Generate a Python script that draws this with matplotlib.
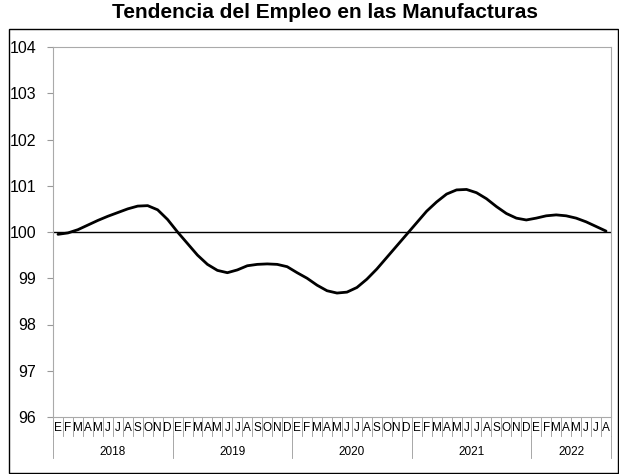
import matplotlib
matplotlib.use("Agg")
import matplotlib.pyplot as plt
import numpy as np
from matplotlib.patches import Rectangle

plt.rcParams['font.family'] = ['Liberation Sans', 'DejaVu Sans']

years = ["2018", "2019", "2020", "2021", "2022"]
month_letters = ["E","F","M","A","M","J","J","A","S","O","N","D"]
values = [99.95,99.98,100.05,100.15,100.25,100.34,100.42,100.50,100.56,100.57,100.48,100.27,
          100.00,99.75,99.50,99.30,99.17,99.12,99.18,99.27,99.30,99.31,99.30,99.25,
          99.12,99.00,98.85,98.73,98.68,98.70,98.80,98.98,99.20,99.45,99.70,99.95,
          100.20,100.45,100.65,100.82,100.91,100.92,100.85,100.72,100.55,100.40,100.30,100.26,
          100.30,100.35,100.37,100.35,100.30,100.22,100.12,100.02]
n = len(values)
labels = [month_letters[i % 12] for i in range(n)]

W, H = 619, 474
fig = plt.figure(figsize=(W/100, H/100), dpi=100)
fig.patches.append(Rectangle((9/W, 1/H), (W-10)/W, (H-30)/H, transform=fig.transFigure,
                             fill=False, edgecolor='black', lw=1.0))
ax = fig.add_axes([53/W, 1-417/H, 558/W, 370/H])
x = np.arange(n)
ax.plot(x, values, color='black', lw=2, solid_capstyle='round')
ax.axhline(100, color='black', lw=1)
ax.set_xlim(-0.5, n - 0.5)
ax.set_ylim(96, 104)
ax.set_yticks(range(96, 105))
ax.tick_params(axis='y', labelsize=11.5, length=4, color='#999999', pad=8)
for s in ax.spines.values():
    s.set_color('#aaaaaa'); s.set_linewidth(0.8)
ax.set_xticks([])
fig.text(325/W, 1-13/H, "Tendencia del Empleo en las Manufacturas", fontsize=15,
         fontweight='bold', ha='center', va='center')

tr = ax.get_xaxis_transform()
gcol = '#999999'
for i in range(n):
    ax.text(i, -0.013, labels[i], transform=tr, ha='center', va='top', fontsize=8.5, clip_on=False)
for i in range(n + 1):
    ax.plot([i - 0.5, i - 0.5], [0, -0.05], transform=tr, color=gcol, lw=0.6, clip_on=False)
for k, yr in enumerate(years):
    start = k * 12
    end = min(start + 12, n)
    ax.text((start + end - 1) / 2, -0.078, yr, transform=tr, ha='center', va='top', fontsize=8.5, clip_on=False)
    ax.plot([start - 0.5, start - 0.5], [-0.05, -0.11], transform=tr, color=gcol, lw=0.6, clip_on=False)
ax.plot([n - 0.5, n - 0.5], [-0.05, -0.11], transform=tr, color=gcol, lw=0.6, clip_on=False)

fig.savefig("out.png", dpi=100)
